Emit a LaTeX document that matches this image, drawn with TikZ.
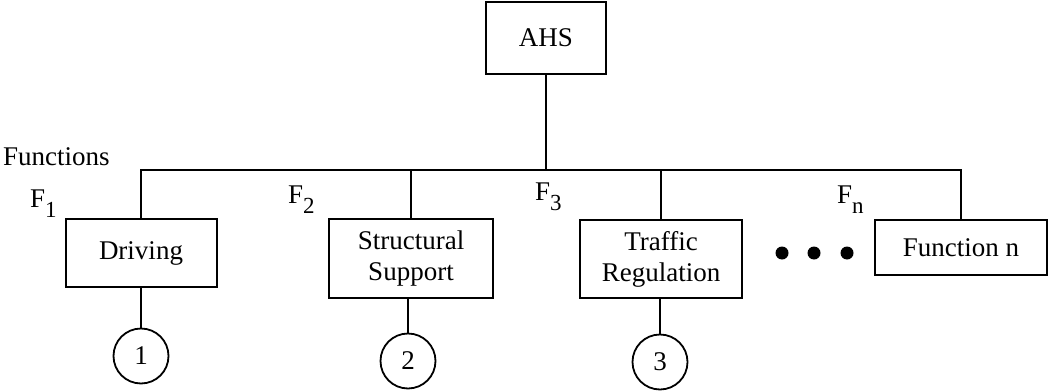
\documentclass[tikz,border=0pt]{standalone}
\usepackage{fontspec}
\setmainfont{Liberation Serif}
\newcommand{\Fsub}[1]{F{\fontsize{23}{24}\selectfont\raisebox{-10pt}{#1}}}
\begin{document}
\begin{tikzpicture}[x=1pt,y=-1pt,
  every node/.style={font=\fontsize{27}{31}\selectfont, inner sep=0pt},
  box/.style={draw, line width=2pt, align=center},
  num/.style={draw, circle, line width=1.8pt, minimum size=55pt},
  link/.style={line width=2pt},
  lbl/.style={anchor=base west}]
\useasboundingbox (0,0) rectangle (1050,391);
\node[box, minimum width=120pt, minimum height=72pt] (ahs) at (546,38) {AHS};
\node[box, minimum width=151pt, minimum height=68pt] (drv) at (141,253) {Driving};
\node[box, minimum width=164pt, minimum height=79pt] (ss) at (411,258.5) {Structural\\Support};
\node[box, minimum width=162pt, minimum height=78pt] (tr) at (661,259) {Traffic\\Regulation};
\node[box, minimum width=172pt, minimum height=55pt] (fn) at (961,247.5) {Function n};
\node[num] (c1) at (141,356) {1};
\node[num] (c2) at (408,361) {2};
\node[num] (c3) at (660,362) {3};
\coordinate (bus) at (0,170);
\draw[link] (ahs.south) -- (ahs.south |- bus);
\draw[link] (drv.north) -- (drv.north |- bus) -- (fn.north |- bus) -- (fn.north);
\draw[link] (ss.north) -- (ss.north |- bus);
\draw[link] (tr.north) -- (tr.north |- bus);
\draw[link] (drv.south) -- (c1.north);
\draw[link] (ss.south -| c2.north) -- (c2.north);
\draw[link] (tr.south -| c3.north) -- (c3.north);
\fill (782,253) circle (6.5pt) (814,253) circle (6.5pt) (847,253) circle (6.5pt);
\node[lbl] (fl) at (3,165) {Functions};
\node[lbl] (f1) at (30,207) {\Fsub{1}};
\node[lbl] (f2) at (288,203) {\Fsub{2}};
\node[lbl] (f3) at (535,200) {\Fsub{3}};
\node[lbl] (fnl) at (837,203) {\Fsub{n}};
\end{tikzpicture}
\end{document}
